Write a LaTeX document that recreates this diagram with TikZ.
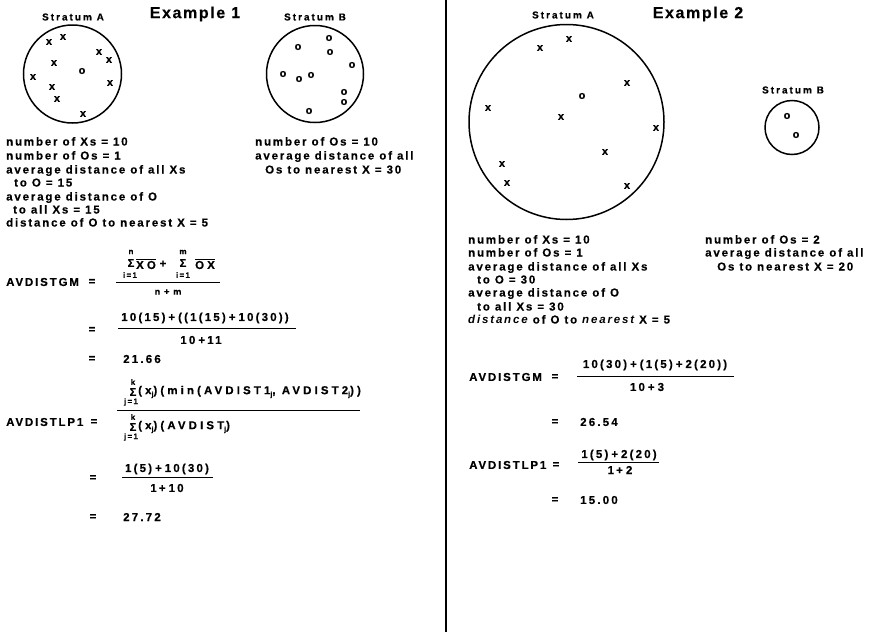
\documentclass[tikz,border=0pt]{standalone}
\usepackage{fontspec}
\setmainfont{Liberation Sans}
\newfontfamily\mf{Liberation Sans}[LetterSpace=16, WordSpace=1.5, BoldFeatures={FakeBold=0.4}]
\newfontfamily\nf{Liberation Sans}[LetterSpace=19, BoldFeatures={FakeBold=0.4}]
\newfontfamily\lf{Liberation Sans}[LetterSpace=16, BoldFeatures={FakeBold=0.4}]
\newfontfamily\ff{Liberation Sans}[LetterSpace=27, BoldFeatures={FakeBold=0.4}]
\newfontfamily\hf{Liberation Sans}[LetterSpace=20, BoldFeatures={FakeBold=0.4}]
\newfontfamily\tf{Liberation Sans}[LetterSpace=10, BoldFeatures={FakeBold=0.3}]
\newfontfamily\pf{Liberation Sans}[BoldFeatures={FakeBold=0.6}]
\newcommand\subj{\raisebox{-2.5pt}{\fontsize{7}{7}\selectfont j}}
\newcommand\ovl[1]{$\overline{\hbox{#1}}$}
\newcommand\gp{\hspace{3pt}}
\begin{document}
\begin{tikzpicture}[x=1pt,y=-1pt,
  txt/.style={font=\mf\bfseries\fontsize{11.5}{13}\selectfont, inner sep=0, anchor=base west},
  lbl/.style={font=\lf\bfseries\fontsize{11.5}{13}\selectfont, inner sep=0, anchor=west},
  ctx/.style={font=\nf\bfseries\fontsize{11.5}{13}\selectfont, inner sep=0},
  fcx/.style={font=\ff\bfseries\fontsize{11.5}{13}\selectfont, inner sep=0},
  head/.style={font=\hf\bfseries\fontsize{10}{11}\selectfont, inner sep=0},
  title/.style={font=\tf\bfseries\fontsize{16}{18}\selectfont, inner sep=0},
  ptx/.style={font=\pf\bfseries\fontsize{11}{11}\selectfont, inner sep=0},
  sml/.style={font=\mf\bfseries\fontsize{8}{9}\selectfont, inner sep=0},
  sig/.style={font=\pf\bfseries\fontsize{11}{11}\selectfont, inner sep=0},
  bar/.style={line width=1pt},
  circ/.style={circle, draw, line width=1.5pt, inner sep=0}]
\useasboundingbox (0,0) rectangle (882,632);

% divider
\coordinate (dt) at (446,0);
\coordinate (db) at (446,632);
\draw[line width=1.6pt] (dt) -- (db);

% ---------------- Example 1 ----------------
\node[head] (sAl) at (73,17) {Stratum A};
\node[title] (ex1) at (195,14) {Example 1};
\node[head] (sBl) at (315,17) {Stratum B};
\node[circ, minimum size=98pt] (cAl) at (72.5,74) {};
\node[circ, minimum size=97pt] (cBl) at (315,74) {};
\foreach \p [count=\i] in {(49,42),(63,37),(99,52),(109,60),(54,63),(33,77),(110,83),(52,87),(57,99),(83,114)}
  \node[ptx] (xl\i) at \p {x};
\node[ptx] (ol) at (82,71) {o};
\foreach \p [count=\i] in {(298,47),(329,38),(330,52),(352,65),(283,74),(299,79),(311,75),(344,92),(344,102),(309,111)}
  \node[ptx] (obl\i) at \p {o};

\node[txt] (l1) at (6,145.5) {number of Xs = 10};
\node[txt] (l2) at (6,159.5) {number of Os = 1};
\node[txt] (l3) at (6,173.5) {average distance of all Xs};
\node[txt] (l4) at (14,186.5) {to O = 15};
\node[txt] (l5) at (6,200.5) {average distance of O};
\node[txt] (l6) at (13,213.5) {to all Xs = 15};
\node[txt] (l7) at (6,226.5) {distance of O to nearest X = 5};

\node[txt] (lb1) at (255,145.5) {number of Os = 10};
\node[txt] (lb2) at (255,159.5) {average distance of all};
\node[txt] (lb3) at (265,173.5) {Os to nearest X = 30};

% AVDISTGM left
\node[lbl] (gmL) at (6,282) {AVDISTGM};
\node[ctx] (eq1) at (92,282) {=};
\node[sig] (s1) at (131,263) {Σ};
\node[sml] (s1t) at (131,252) {n};
\node[sml] (s1b) at (130,275) {i=1};
\node[fcx] (xo) at (146,264) {\ovl{XO}};
\node[ctx] (pl1) at (163,264) {+};
\node[sig] (s2) at (183,263) {Σ};
\node[sml] (s2t) at (183,252) {m};
\node[sml] (s2b) at (183,275) {i=1};
\node[fcx] (ox) at (205,264) {\ovl{OX}};
\coordinate (b1l) at (116,282); \coordinate (b1r) at (220,282);
\draw[bar] (b1l) -- (b1r);
\node[sml, font=\mf\bfseries\fontsize{9}{10}\selectfont] (den1) at (168,292) {n + m};

\node[ctx] (eq2) at (92,330) {=};
\node[ctx] (num2) at (205,318) {10(15)\gp+\gp((1(15)\gp+\gp10(30))};
\coordinate (b2l) at (118,328); \coordinate (b2r) at (296,328);
\draw[bar] (b2l) -- (b2r);
\node[ctx] (den2) at (201,340) {10\gp+11};

\node[ctx] (eq3) at (92,359) {=};
\node[ctx, anchor=west] (r1) at (123,359) {21.66};

% AVDISTLP1 left
\node[lbl] (lpL) at (6,422) {AVDISTLP1};
\node[ctx] (eq4) at (94,422) {=};
\node[sml] (s3t) at (133,382) {k};
\node[sig] (s3) at (133,392) {Σ};
\node[sml] (s3b) at (131,402) {j=1};
\node[fcx, anchor=west] (num4) at (138,392) {(x\subj)(min(AVDIST1\subj, AVDIST2\subj))};
\coordinate (b4l) at (117,410); \coordinate (b4r) at (360,410);
\draw[bar] (b4l) -- (b4r);
\node[sml] (s4t) at (133,417) {k};
\node[sig] (s4) at (133,427) {Σ};
\node[sml] (s4b) at (131,437) {j=1};
\node[fcx, anchor=west] (den4) at (138,427) {(x\subj)(AVDIST\subj)};

\node[ctx] (eq5) at (93,478) {=};
\node[ctx] (num5) at (167,469) {1(5)\gp+\gp10(30)};
\coordinate (b5l) at (122,477); \coordinate (b5r) at (213,477);
\draw[bar] (b5l) -- (b5r);
\node[ctx] (den5) at (167,488) {1+\gp10};

\node[ctx] (eq6) at (93,517) {=};
\node[ctx, anchor=west] (r2) at (123,517) {27.72};

% ---------------- Example 2 ----------------
\node[head] (sAr) at (563,15) {Stratum A};
\node[title] (ex2) at (698,14) {Example 2};
\node[head] (sBr) at (793,90) {Stratum B};
\node[circ, minimum size=195pt] (cAr) at (566.5,122) {};
\node[circ, minimum size=54pt] (cBr) at (792,127.5) {};
\foreach \p [count=\i] in {(569,39),(540,48),(627,83),(488,108),(561,117),(656,128),(605,152),(502,164),(507,183),(627,186)}
  \node[ptx] (xr\i) at \p {x};
\node[ptx] (or) at (582,96) {o};
\node[ptx] (obr1) at (787,116) {o};
\node[ptx] (obr2) at (796,135) {o};

\node[txt] (r1l) at (468,243.5) {number of Xs = 10};
\node[txt] (r2l) at (468,256.5) {number of Os = 1};
\node[txt] (r3l) at (468,270.5) {average distance of all Xs};
\node[txt] (r4l) at (477,283.5) {to O = 30};
\node[txt] (r5l) at (468,296.5) {average distance of O};
\node[txt] (r6l) at (477,310.5) {to all Xs = 30};
\node[txt] (r7l) at (468,323.5) {\itshape distance\upshape{} of O to \itshape nearest\upshape{} X = 5};

\node[txt] (rb1) at (705,243.5) {number of Os = 2};
\node[txt] (rb2) at (705,256.5) {average distance of all};
\node[txt] (rb3) at (717,270.5) {Os to nearest X = 20};

\node[lbl] (gmR) at (469,377) {AVDISTGM};
\node[ctx] (eq7) at (555,377) {=};
\node[ctx] (num7) at (655,365) {10(30)\gp+\gp(1(5)\gp+\gp2(20))};
\coordinate (b7l) at (577,376); \coordinate (b7r) at (734,376);
\draw[bar] (b7l) -- (b7r);
\node[ctx] (den7) at (647,387) {10\gp+\gp3};

\node[ctx] (eq8) at (555,422) {=};
\node[ctx, anchor=west] (r3) at (580,422) {26.54};

\node[lbl] (lpR) at (469,465) {AVDISTLP1};
\node[ctx] (eq9) at (556,465) {=};
\node[ctx] (num9) at (619,455) {1(5)\gp+\gp2(20)};
\coordinate (b9l) at (578,462); \coordinate (b9r) at (659,462);
\draw[bar] (b9l) -- (b9r);
\node[ctx] (den9) at (620,470) {1+\gp2};

\node[ctx] (eq10) at (555,500) {=};
\node[ctx, anchor=west] (r4) at (580,500) {15.00};
\end{tikzpicture}
\end{document}
